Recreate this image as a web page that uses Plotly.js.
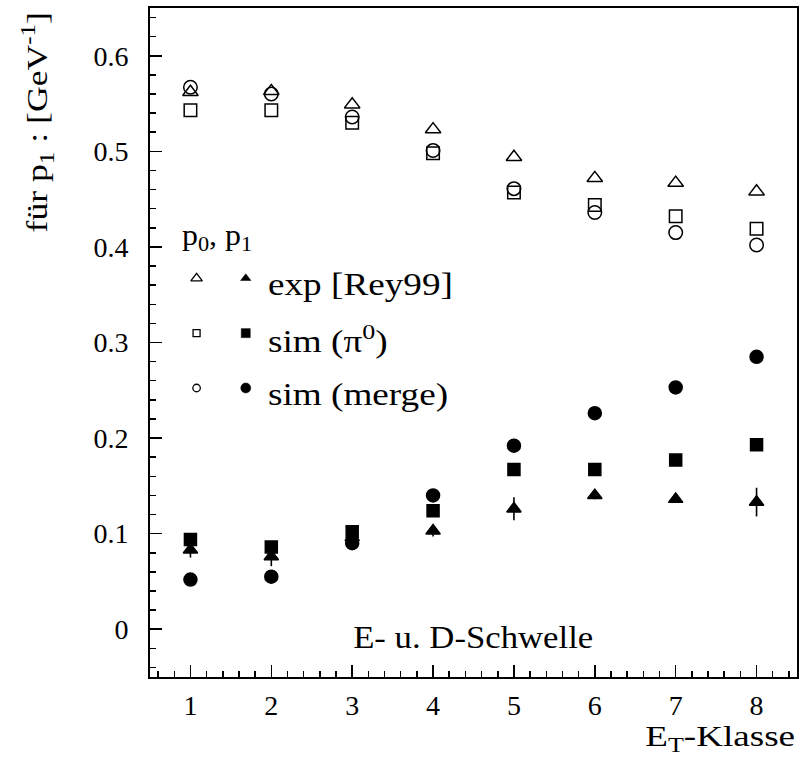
<!DOCTYPE html>
<html><head><meta charset="utf-8">
<script src="https://cdn.plot.ly/plotly-3.0.1.min.js"></script>
<style>html,body{margin:0;padding:0;background:#fff}</style>
</head><body><div id="chart" style="width:800px;height:775px"></div>
<script>
// E_T classes
const etKlasse = [1, 2, 3, 4, 5, 6, 7, 8];
// p0 (open markers)
const p0Exp   = [0.562, 0.563, 0.549, 0.523, 0.494, 0.472, 0.467, 0.458];
const p0SimPi = [0.543, 0.543, 0.530, 0.498, 0.457, 0.444, 0.432, 0.419];
const p0SimMg = [0.567, 0.560, 0.536, 0.501, 0.461, 0.436, 0.415, 0.402];
// p1 (filled markers)
const p1Exp    = [0.083, 0.076, 0.096, 0.103, 0.126, 0.140, 0.136, 0.133];
const p1ExpErr = [0.008, 0.010, 0.005, 0.006, 0.012, 0.004, 0.004, 0.015];
const p1SimPi  = [0.094, 0.086, 0.102, 0.124, 0.167, 0.167, 0.177, 0.193];
const p1SimMg  = [0.052, 0.055, 0.090, 0.140, 0.192, 0.226, 0.253, 0.285];
// legend labels
const legendLabels = ['exp [Rey99]', 'sim (π<sup>0</sup>)', 'sim (merge)'];

const serif = 'Liberation Serif, Times New Roman, serif';
const blk = '#000';
function pts(y, sym, size, extra) {
  return Object.assign({x: etKlasse, y: y, type: 'scatter', mode: 'markers', showlegend: false,
    cliponaxis: false,
    marker: {symbol: sym, size: size, color: blk, line: {color: blk, width: 1.5}}}, extra || {});
}
const traces = [
  pts(p0SimPi, 'square-open', 12.5),
  pts(p0SimMg, 'circle-open', 13.5),
  pts(p0Exp, 'triangle-up-open', 13.5),
  pts(p1SimPi, 'square', 12),
  pts(p1SimMg, 'circle', 13),
  pts(p1Exp, 'triangle-up', 12.5, {error_y: {type: 'data', array: p1ExpErr, visible: true, color: blk, thickness: 1.6, width: 0}})
];
// legend glyphs on a hidden overlay axis (0..1 box units)
const legRowY  = [0.596, 0.514, 0.432];
const legTextY = [0.586, 0.504, 0.422];
const legOpen = ['triangle-up-open', 'square-open', 'circle-open'];
const legFill = ['triangle-up', 'square', 'circle'];
const legOpenSize = [10, 7, 7.5];
const legFillSize = [9, 9, 10];
for (let i = 0; i < 3; i++) {
  traces.push({x: [0.072], y: [legRowY[i]], xaxis: 'x2', yaxis: 'y2', type: 'scatter', mode: 'markers',
    showlegend: false, marker: {symbol: legOpen[i], size: legOpenSize[i], color: blk, line: {color: blk, width: 1.3}}});
  traces.push({x: [0.148], y: [legRowY[i]], xaxis: 'x2', yaxis: 'y2', type: 'scatter', mode: 'markers',
    showlegend: false, marker: {symbol: legFill[i], size: legFillSize[i], color: blk, line: {color: blk, width: 0.5}}});
}
// annotations, each with a horizontal stretch and its origin
const annotations = [];
const stretch = [];
legendLabels.forEach((t, i) => {
  annotations.push({xref: 'x2', yref: 'y2', x: 0.179, y: legTextY[i],
    xanchor: 'left', yanchor: 'middle', text: t, showarrow: false, font: {family: serif, size: 31, color: blk}});
  stretch.push([1.2, 'left center']);
});
annotations.push({xref: 'x2', yref: 'y2', x: 0.047, y: 0.657, xanchor: 'left', yanchor: 'middle',
  text: 'p<sub>0</sub>, p<sub>1</sub>', showarrow: false, font: {family: serif, size: 29, color: blk}});
stretch.push([1.1, 'left center']);
annotations.push({xref: 'paper', yref: 'paper', x: 0.4985, y: 0.0595, xanchor: 'center', yanchor: 'middle',
  text: 'E- u. D-Schwelle', showarrow: false, font: {family: serif, size: 31, color: blk}});
stretch.push([1.12, 'center center']);
annotations.push({xref: 'paper', yref: 'paper', x: 1.0, y: -0.091, xanchor: 'right', yanchor: 'middle',
  text: 'E<sub>T</sub>-Klasse', showarrow: false, font: {family: serif, size: 29, color: blk}});
stretch.push([1.28, 'right center']);
annotations.push({xref: 'paper', yref: 'paper', x: -0.175, y: 0.997, xanchor: 'center', yanchor: 'top',
  textangle: -90, text: 'für p<sub>1</sub> : [GeV<sup>-1</sup>]', showarrow: false, font: {family: serif, size: 29, color: blk}});
stretch.push([1.23, 'right center']);

const axBase = {showgrid: false, zeroline: false, showline: true, linecolor: blk, linewidth: 2, mirror: true,
  ticks: 'inside', tickcolor: blk, tickwidth: 1.6, tickfont: {family: serif, size: 28, color: blk}};
const layout = {
  width: 800, height: 775,
  margin: {l: 150, r: 3, t: 8, b: 98},
  paper_bgcolor: '#fff', plot_bgcolor: '#fff',
  xaxis: Object.assign({}, axBase, {range: [0.5, 8.5], tickvals: etKlasse, ticklen: 12, ticklabelstandoff: 2,
    minor: {dtick: 0.2, tick0: 0, ticks: 'inside', ticklen: 6, tickcolor: blk, tickwidth: 1.5}}),
  yaxis: Object.assign({}, axBase, {range: [-0.05, 0.65], dtick: 0.1, tick0: 0, ticklen: 12, ticklabelstandoff: 14,
    tickformat: '.1~f',
    minor: {dtick: 0.02, tick0: 0, ticks: 'inside', ticklen: 6, tickcolor: blk, tickwidth: 1.5}}),
  xaxis2: {overlaying: 'x', range: [0, 1], visible: false, fixedrange: true},
  yaxis2: {overlaying: 'y', range: [0, 1], visible: false, fixedrange: true},
  annotations: annotations
};
Plotly.newPlot('chart', traces, layout, {staticPlot: true}).then(gd => {
  gd.querySelectorAll('g.annotation').forEach(g => {
    const idx = +g.getAttribute('data-index');
    const s = stretch[idx];
    const t = g.querySelector('text.annotation-text');
    if (!s || !t) return;
    t.style.transformBox = 'fill-box';
    t.style.transformOrigin = s[1];
    t.style.transform = 'scaleX(' + s[0] + ')';
  });
});
</script></body></html>
